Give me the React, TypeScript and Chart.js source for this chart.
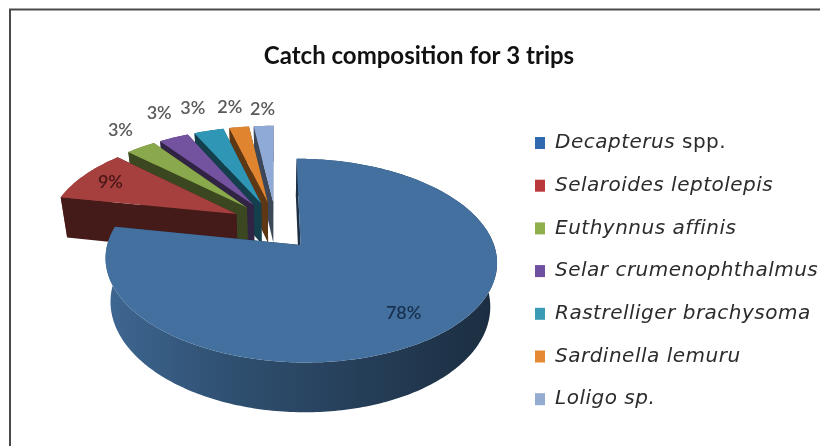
import React, { useEffect, useRef } from "react";
import { Chart, registerables } from "chart.js";

Chart.register(...registerables);

const chartTitle = "Catch composition for 3 trips";
const species = [
  "Decapterus",
  "Selaroides leptolepis",
  "Euthynnus affinis",
  "Selar crumenophthalmus",
  "Rastrelliger brachysoma",
  "Sardinella lemuru",
  "Loligo sp.",
];
const speciesSuffix = [" spp.", "", "", "", "", "", ""];
const sharePercent = [78, 9, 3, 3, 3, 2, 2];
const sliceColors = ["#43709f", "#a5403f", "#8aa84c", "#7353a0", "#2f97b5", "#e0842f", "#8faad6"];
const legendColors = ["#2f69b0", "#b8383c", "#8fae4c", "#6f4f9f", "#3a9bb5", "#e58a32", "#93acd0"];

// Projection of the (flat) pie disc onto the page: a tilted disc with perspective.
const P = { x0: 271, y0: 227, sx: 188, sy: 94, k: 0.15, drop: 41.7, widen: 1.06, narrow: 0.97 };
// The small slices sit slightly up and right of the pure projection.
const SMALL_SHIFT = { x: 5, y: -3 };
const LABEL_RHO = [0.8, 0.82, 1.36, 1.42, 1.34, 1.3, 1.27];
const LABEL_DX = [-9, 0, 13, 14, -1, -2, 1];
const LABEL_DY = [1, 0, 2, 0, -2, -1, 1];

function project(u: number, v: number, bottom: boolean, sx = 0, sy = 0): [number, number] {
  const w = 1 - P.k * v;
  if (!bottom) return [P.x0 + sx + (P.sx * u) / w, P.y0 + sy + (P.sy * v) / w];
  return [P.x0 + sx + (P.sx * P.narrow * u) / w, P.y0 + sy + P.drop + (P.sy * P.widen * v) / w];
}

function shade(hex: string, f: number) {
  const n = parseInt(hex.slice(1), 16);
  return `rgb(${Math.round(((n >> 16) & 255) * f)},${Math.round(((n >> 8) & 255) * f)},${Math.round((n & 255) * f)})`;
}

function poly(ctx: CanvasRenderingContext2D, pts: [number, number][], fill: any) {
  ctx.beginPath();
  pts.forEach((p, i) => (i ? ctx.lineTo(p[0], p[1]) : ctx.moveTo(p[0], p[1])));
  ctx.closePath();
  ctx.fillStyle = fill;
  ctx.fill();
}

const pie3d = {
  id: "pie3d",
  beforeDraw(chart: any) {
    const { ctx } = chart;
    ctx.save();
    ctx.strokeStyle = "#4a4a4a";
    ctx.lineWidth = 2;
    ctx.beginPath();
    ctx.moveTo(10, 446);
    ctx.lineTo(10, 9.5);
    ctx.lineTo(820, 9.5);
    ctx.stroke();
    ctx.restore();
  },
  beforeDatasetsDraw(chart: any) {
    const { ctx } = chart;
    const arcs = chart.getDatasetMeta(0).data;
    const colors = chart.data.datasets[0].backgroundColor as string[];
    const geo = arcs.map((a: any, i: number) => {
      const mid = (a.startAngle + a.endAngle) / 2;
      const e = a.options.offset / a.outerRadius;
      return {
        a,
        mid,
        ou: Math.cos(mid) * e,
        ov: Math.sin(mid) * e,
        sx: i === 0 ? 0 : SMALL_SHIFT.x,
        sy: i === 0 ? 0 : SMALL_SHIFT.y,
      };
    });
    const order = arcs.map((_: any, i: number) => i).reverse();
    // back to front: last slice first, the large slice closes the picture
    const drawOrder = order.filter((i: number) => i !== 0).concat([0]);
    ctx.save();
    for (const i of drawOrder) {
      const { a, ou, ov, sx, sy } = geo[i];
      const base = colors[i];
      const at = (ang: number, rho: number, bottom: boolean) =>
        project(ou + rho * Math.cos(ang), ov + rho * Math.sin(ang), bottom, sx, sy);
      const steps = Math.max(4, Math.ceil((a.endAngle - a.startAngle) * 60));
      const top: [number, number][] = [];
      const bot: [number, number][] = [];
      for (let s = 0; s <= steps; s++) {
        const ang = a.startAngle + ((a.endAngle - a.startAngle) * s) / steps;
        top.push(at(ang, 1, false));
        bot.push(at(ang, 1, true));
      }
      const apexT = at(a.startAngle, 0, false);
      const apexB = at(a.startAngle, 0, true);
      const wall = shade(base, 0.42);
      const grad = ctx.createLinearGradient(105, 0, 497, 0);
      grad.addColorStop(0, shade(base, 0.92));
      grad.addColorStop(0.3, shade(base, 0.72));
      grad.addColorStop(0.6, shade(base, 0.58));
      grad.addColorStop(1, shade(base, 0.4));
      poly(ctx, top.concat(bot.slice().reverse()), grad);
      poly(ctx, [apexT, top[0], bot[0], apexB], wall);
      poly(ctx, [apexT, top[steps], bot[steps], apexB], wall);
      poly(ctx, [apexT, ...top], base);
    }
    // percentage labels
    ctx.textAlign = "center";
    ctx.textBaseline = "middle";
    ctx.font = "600 18px Lato";
    sharePercent.forEach((v, i) => {
      const { mid, ou, ov, sx, sy } = geo[i];
      const rho = LABEL_RHO[i];
      const p = project(ou + rho * Math.cos(mid), ov + rho * Math.sin(mid), false, sx, sy);
      ctx.fillStyle = i === 0 ? "#17304f" : i === 1 ? "#4a1616" : "#5a5a5a";
      ctx.fillText(`${v}%`, p[0] + LABEL_DX[i], p[1] + LABEL_DY[i]);
    });
    ctx.restore();
    return false;
  },
  afterDraw(chart: any) {
    const { ctx } = chart;
    ctx.save();
    ctx.textBaseline = "middle";
    ctx.textAlign = "left";
    ctx.letterSpacing = "0.5px";
    const startY = 143;
    const stepY = 42.7;
    species.forEach((name, i) => {
      const y = startY + stepY * i;
      ctx.fillStyle = legendColors[i];
      ctx.fillRect(535, y - 6, 10, 12);
      ctx.fillStyle = "#2c2c2c";
      ctx.font = "italic 20px 'DejaVu Sans'";
      ctx.fillText(name, 555, y);
      if (speciesSuffix[i]) {
        const w = ctx.measureText(name).width;
        ctx.font = "20px 'DejaVu Sans'";
        ctx.fillText(speciesSuffix[i], 555 + w, y);
      }
    });
    ctx.restore();
  },
};

export default function App() {
  const ref = useRef<HTMLCanvasElement>(null);
  useEffect(() => {
    const chart = new Chart(ref.current as HTMLCanvasElement, {
      type: "pie",
      data: {
        labels: species.map((s, i) => s + speciesSuffix[i]),
        datasets: [
          {
            data: sharePercent,
            backgroundColor: sliceColors,
            borderWidth: 0,
            offset: 24,
          },
        ],
      },
      options: {
        responsive: false,
        animation: false,
        radius: 100,
        layout: { padding: { left: 18 } },
        plugins: {
          legend: { display: false },
          tooltip: { enabled: false },
          title: {
            display: true,
            text: chartTitle,
            color: "#111111",
            font: { family: "Lato", size: 24, weight: "bold" },
            padding: { top: 42, bottom: 10 },
          },
        },
      } as any,
      plugins: [pie3d as any],
    });
    return () => chart.destroy();
  }, []);
  return (
    <canvas
      ref={ref}
      width={820}
      height={446}
      style={{ position: "absolute", left: 0, top: 0, display: "block", filter: "blur(0.5px)" }}
    />
  );
}
